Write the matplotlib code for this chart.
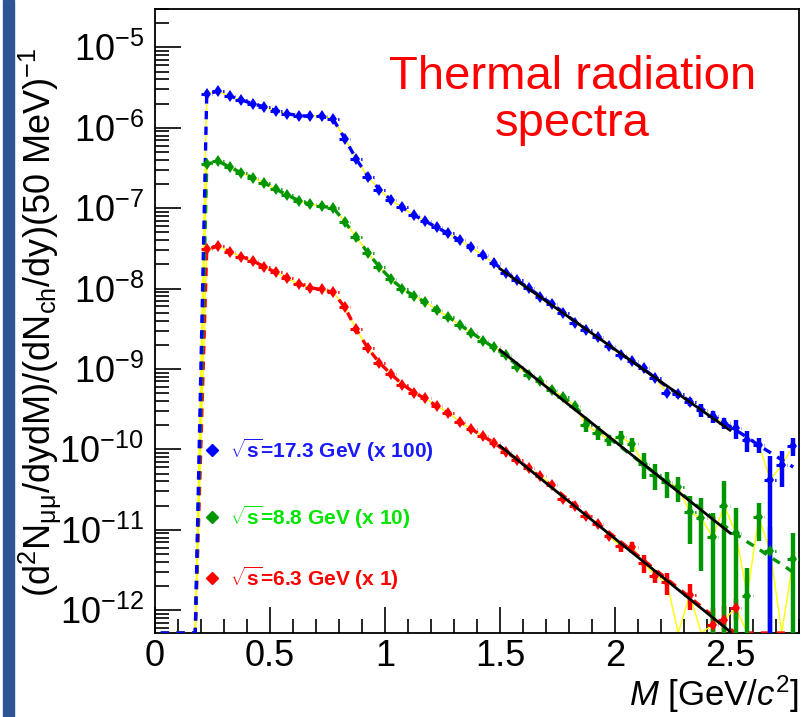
import numpy as np
import matplotlib
matplotlib.use("Agg")
import matplotlib.pyplot as plt
from matplotlib.ticker import MultipleLocator, LogLocator, NullFormatter, FuncFormatter
from matplotlib.patches import Rectangle

plt.rcParams['font.family'] = ['Liberation Sans', 'DejaVu Sans']
plt.rcParams['mathtext.fontset'] = 'custom'
plt.rcParams['mathtext.rm'] = 'Liberation Sans'
plt.rcParams['mathtext.it'] = 'Liberation Sans:italic'
plt.rcParams['mathtext.bf'] = 'Liberation Sans:bold'
plt.rcParams['mathtext.default'] = 'regular'

# 50 MeV bins, empty below 0.2 GeV
zero_bins = [0.025, 0.075, 0.125, 0.175]
mass = np.round(np.arange(0.225, 2.8, 0.05), 3)

# log10 of the spectra (already scaled x100 / x10 / x1), nan = empty bin
blue_data = [-5.575, -5.547, -5.609, -5.658, -5.700, -5.740, -5.790, -5.830, -5.850, -5.850, -5.850, -5.895,
             -6.134, -6.390, -6.610, -6.768, -6.900, -6.990, -7.087, -7.158, -7.240, -7.314,
             -7.398, -7.488, -7.584, -7.687, -7.804, -7.894, -7.998, -8.100, -8.190, -8.300,
             -8.425, -8.516, -8.600, -8.714, -8.826, -8.900, -8.990, -9.116, -9.294, -9.310,
             -9.406, -9.510, -9.590, -9.675, -9.737, -9.882, -9.944, -10.379, -10.193, -9.957]
blue_model = [-5.575, -5.547, -5.605, -5.655, -5.70, -5.74, -5.785, -5.825, -5.85, -5.855, -5.86, -5.895,
              -6.134, -6.39, -6.60, -6.765, -6.895, -6.99, -7.085, -7.16, -7.24, -7.315,
              -7.40, -7.49, -7.585, -7.685, -7.795, -7.895, -7.995, -8.095, -8.19, -8.295,
              -8.41, -8.51, -8.60, -8.71, -8.815, -8.905, -9.00, -9.11, -9.22, -9.31,
              -9.40, -9.49, -9.58, -9.67, -9.76, -9.85, -9.95, -10.04, -10.13, -10.22]
blue_relerr = [0.02] * 26 + [0.03] * 10 + [0.05, 0.05, 0.06, 0.06, 0.08, 0.10,
               0.12, 0.18, 0.18, 0.15, 0.27, 0.30, 0.20, 1.00, 0.47, 0.25]

green_data = [-6.453, -6.416, -6.494, -6.561, -6.619, -6.686, -6.764, -6.839, -6.909, -6.954, -6.975, -6.996,
              -7.170, -7.357, -7.555, -7.729, -7.886, -8.010, -8.093, -8.164, -8.267, -8.350,
              -8.453, -8.549, -8.648, -8.730, -8.826, -8.971, -9.075, -9.145, -9.261, -9.344,
              -9.460, -9.696, -9.791, -9.882, -9.848, -9.932, -10.180, -10.317, -10.412, -10.470,
              -10.785, -10.855, -11.090, -10.700, -11.040, -11.820, -10.840, -11.270, np.nan, -11.360]
green_model = [-6.453, -6.416, -6.49, -6.56, -6.62, -6.686, -6.762, -6.838, -6.905, -6.955, -6.978, -6.996,
               -7.17, -7.357, -7.555, -7.729, -7.88, -8.0, -8.09, -8.17, -8.26, -8.35,
               -8.45, -8.545, -8.645, -8.735, -8.835, -8.955, -9.06, -9.155, -9.255, -9.35,
               -9.46, -9.62, -9.75, -9.86, -9.97, -10.08, -10.19, -10.30, -10.41, -10.52,
               -10.63, -10.74, -10.85, -10.95, -11.05, -11.15, -11.24, -11.34, -11.43, -11.53]
green_relerr = [0.02] * 24 + [0.04] * 9 + [0.18, 0.20, 0.15, 0.20, 0.20, 0.35, 0.35, 0.35, 0.35,
                0.60, 0.78, 1.0, 1.0, 1.05, 1.2, 0.5, 1.0, 0.0, 1.1]

red_data = [-7.513, -7.472, -7.543, -7.605, -7.655, -7.729, -7.799, -7.873, -7.944, -7.990, -8.010, -8.047,
            -8.233, -8.507, -8.743, -8.922, -9.062, -9.199, -9.294, -9.364, -9.460, -9.543,
            -9.655, -9.749, -9.832, -9.915, -10.027, -10.130, -10.234, -10.330, -10.441, -10.619,
            -10.702, -10.835, -10.925, -11.083, -11.207, -11.215, -11.414, -11.571, -11.654, np.nan,
            -11.807, np.nan, -12.180, -12.120, -11.970, np.nan, np.nan, np.nan, np.nan, np.nan]
red_model = [-7.513, -7.472, -7.54, -7.60, -7.657, -7.727, -7.8, -7.873, -7.94, -7.99, -8.012, -8.047,
             -8.233, -8.507, -8.74, -8.92, -9.06, -9.19, -9.29, -9.37, -9.46, -9.55,
             -9.65, -9.745, -9.835, -9.92, -10.025, -10.13, -10.235, -10.34, -10.455, -10.575,
             -10.69, -10.805, -10.92, -11.035, -11.15, -11.265, -11.38, -11.495, -11.61, -11.725,
             -11.84, -11.955, -12.07, -12.185, -12.30, -12.41, -12.52, -12.63, -12.74, -12.85]
red_relerr = [0.02] * 26 + [0.05] * 10 + [0.15, 0.15, 0.25, 0.18, 0.30, 0.0,
              0.35, 0.0, 0.60, 0.50, 0.30, 0.0, 0.0, 0.0, 0.0, 0.0]

series = [
    (blue_data, blue_model, blue_relerr, '#0000ff', '#1a1aff', r'$\sqrt{s}$=17.3 GeV (x 100)'),
    (green_data, green_model, green_relerr, '#009600', '#00e600', r'$\sqrt{s}$=8.8 GeV (x 10)'),
    (red_data, red_model, red_relerr, '#ff0000', '#ff0000', r'$\sqrt{s}$=6.3 GeV (x 1)'),
]
fit_range = (1.5, 2.5)
YMIN, YMAX = 5.2e-13, 3.0e-5

fig = plt.figure(figsize=(8.03, 7.17), dpi=100)
fig.patches.append(Rectangle((3 / 803, 0), 11 / 803, 1, transform=fig.transFigure,
                             color='#2f5597', zorder=0))
ax = fig.add_axes([155 / 803, 84 / 717, 644 / 803, 624 / 717])
ax.set_yscale('log')

x_line = np.concatenate([zero_bins, mass])
# draw red first so the blue curve ends up on top (as in the original)
for i, (data, model, relerr, col, txtcol, lab) in enumerate(series[::-1]):
    y = 10 ** np.array(data)
    y0 = np.nan_to_num(y, nan=0.0)
    m = 10 ** np.array(model)
    # yellow line joining the pseudo-data
    ax.plot(x_line, np.clip(np.concatenate([[0] * 4, y0]), YMIN, None), color='#ffff00',
            lw=1.0, zorder=2)
    # model curve (dashed), clipped at the frame bottom like ROOT does
    ax.plot(x_line, np.clip(np.concatenate([[0] * 4, m]), YMIN, None), color=col,
            lw=2.4, dashes=(2.5, 2.2), zorder=3 + 0.1 * i)
    err = y * np.array(relerr)
    lo = np.minimum(err, y - YMIN * 0.5)
    eb = ax.errorbar(mass, y, xerr=0.025, fmt='none', ecolor=col, elinewidth=2.2, zorder=4)
    eb[2][0].set_linestyle((0, (2.0, 1.5)))
    ax.errorbar(mass, y, yerr=[lo, err], fmt='d', color=col, ms=6, mew=0,
                elinewidth=3.2, capsize=0, zorder=5)
    # exponential fit over the fit range
    sel = (mass >= fit_range[0]) & (mass <= fit_range[1]) & ~np.isnan(y)
    k, b = np.polyfit(mass[sel], np.log10(y[sel]), 1)
    xf = np.array(fit_range)
    ax.plot(xf, 10 ** (k * xf + b), color='black', lw=2, zorder=6)

ax.set_xlim(0, 2.8)
ax.set_ylim(YMIN, YMAX)

ax.xaxis.set_major_locator(MultipleLocator(0.5))
ax.xaxis.set_minor_locator(MultipleLocator(0.1))
ax.xaxis.set_major_formatter(FuncFormatter(lambda v, p: '%g' % v))
ax.set_yticks([10.0 ** e for e in range(-12, -4)])
ax.yaxis.set_minor_locator(LogLocator(base=10, subs=np.arange(2, 10), numticks=20))
ax.yaxis.set_minor_formatter(NullFormatter())
ax.tick_params(which='both', direction='in', top=False, right=False, width=1.2)
ax.tick_params(which='major', length=19)
ax.tick_params(which='minor', length=10)
ax.tick_params(axis='y', labelsize=26, pad=8)
ax.tick_params(axis='x', labelsize=26, pad=4)
for s in ax.spines.values():
    s.set_linewidth(1.3)

fig.text(40 / 803, 1 - 322 / 717,
         r'(d$^{2}$N$_{\mu\mu}$/dydM)/(dN$_{ch}$/dy)(50 MeV)$^{-1}$',
         rotation=90, ha='center', va='center', fontsize=26)
ax.set_xlabel(r'$\it{M}$ [GeV/$\it{c}^{2}$]', fontsize=25, loc='right', labelpad=0)

ax.text(0.648, 0.853, 'Thermal radiation\nspectra', transform=ax.transAxes, color='#ff0000',
        fontsize=34, ha='center', va='center', linespacing=1.1)

leg_y = [0.293, 0.186, 0.088]
for (data, model, relerr, col, txtcol, lab), yy in zip(series, leg_y):
    ax.plot([0.0885], [yy], 'D', color=col, ms=6, transform=ax.transAxes, clip_on=False)
    ax.text(0.116, yy, lab, transform=ax.transAxes, color=txtcol, fontsize=15,
            fontweight='bold', ha='left', va='center')

fig.savefig('out.png', dpi=100)
